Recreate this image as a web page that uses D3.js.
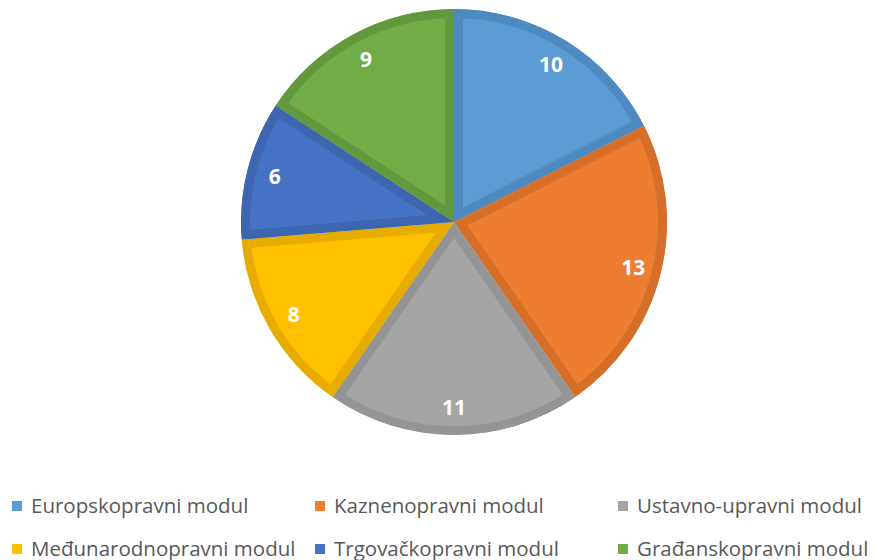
<!DOCTYPE html>
<html>
<head>
<meta charset="utf-8">
<script src="https://cdn.jsdelivr.net/npm/d3@7"></script>
<style>
    body { margin: 0; background: #fff; }
    .legendText { font-family: "Open Sans", sans-serif; font-size: 20.5px; fill: #595959; }
    .sliceLabel { font-family: "Open Sans", sans-serif; font-size: 21px; font-weight: bold; fill: #fff; }
</style>
</head>
<body>
<script>
var categories = ["Europskopravni modul", "Kaznenopravni modul", "Ustavno-upravni modul",
                  "Međunarodnopravni modul", "Trgovačkopravni modul", "Građanskopravni modul"];
var values = [10, 13, 11, 8, 6, 9];
var colors = ["#5B9BD5", "#ED7D31", "#A5A5A5", "#FFC000", "#4472C4", "#70AD47"];
var borderColors = ["#4E89BF", "#D46E28", "#959595", "#E6AC00", "#3C66B0", "#63993E"];

window.onload = setChart();

function setChart(){
    var width = 875,
        height = 560,
        radius = 213,
        cx = 454,
        cy = 222;

    var svg = d3.select("body")
        .append("svg")
        .attr("width", width)
        .attr("height", height);

    var pie = d3.pie().sort(null)(values);

    var arc = d3.arc().innerRadius(0).outerRadius(radius);
    var labelArc = d3.arc().innerRadius(185).outerRadius(185);

    var defs = svg.append("defs");
    defs.selectAll("clipPath")
        .data(pie)
        .enter()
        .append("clipPath")
        .attr("id", function(d, i){ return "clip" + i; })
        .append("path")
        .attr("d", arc);

    var g = svg.append("g")
        .attr("transform", "translate(" + cx + "," + cy + ")");

    //slices with darker inner border
    g.selectAll(".slice")
        .data(pie)
        .enter()
        .append("path")
        .attr("class", "slice")
        .attr("d", arc)
        .attr("clip-path", function(d, i){ return "url(#clip" + i + ")"; })
        .style("fill", function(d, i){ return colors[i]; })
        .style("stroke", function(d, i){ return borderColors[i]; })
        .style("stroke-width", 18)
        .style("stroke-linejoin", "miter");

    g.selectAll(".sliceLabel")
        .data(pie)
        .enter()
        .append("text")
        .attr("class", "sliceLabel")
        .attr("transform", function(d){ return "translate(" + labelArc.centroid(d) + ")"; })
        .attr("text-anchor", "middle")
        .attr("dy", "0.36em")
        .text(function(d){ return d.data; });

    //legend, 3 columns x 2 rows
    var colX = [12, 315, 618],
        rowY = [506, 549];

    var legend = svg.selectAll(".legendItem")
        .data(categories)
        .enter()
        .append("g")
        .attr("class", "legendItem")
        .attr("transform", function(d, i){
            return "translate(" + colX[i % 3] + "," + rowY[Math.floor(i / 3)] + ")";
        });

    legend.append("rect")
        .attr("x", 0)
        .attr("y", -5)
        .attr("width", 10)
        .attr("height", 10)
        .style("fill", function(d, i){ return colors[i]; });

    legend.append("text")
        .attr("class", "legendText")
        .attr("x", 19)
        .attr("dy", "0.35em")
        .text(function(d){ return d; });
};
</script>
</body>
</html>
